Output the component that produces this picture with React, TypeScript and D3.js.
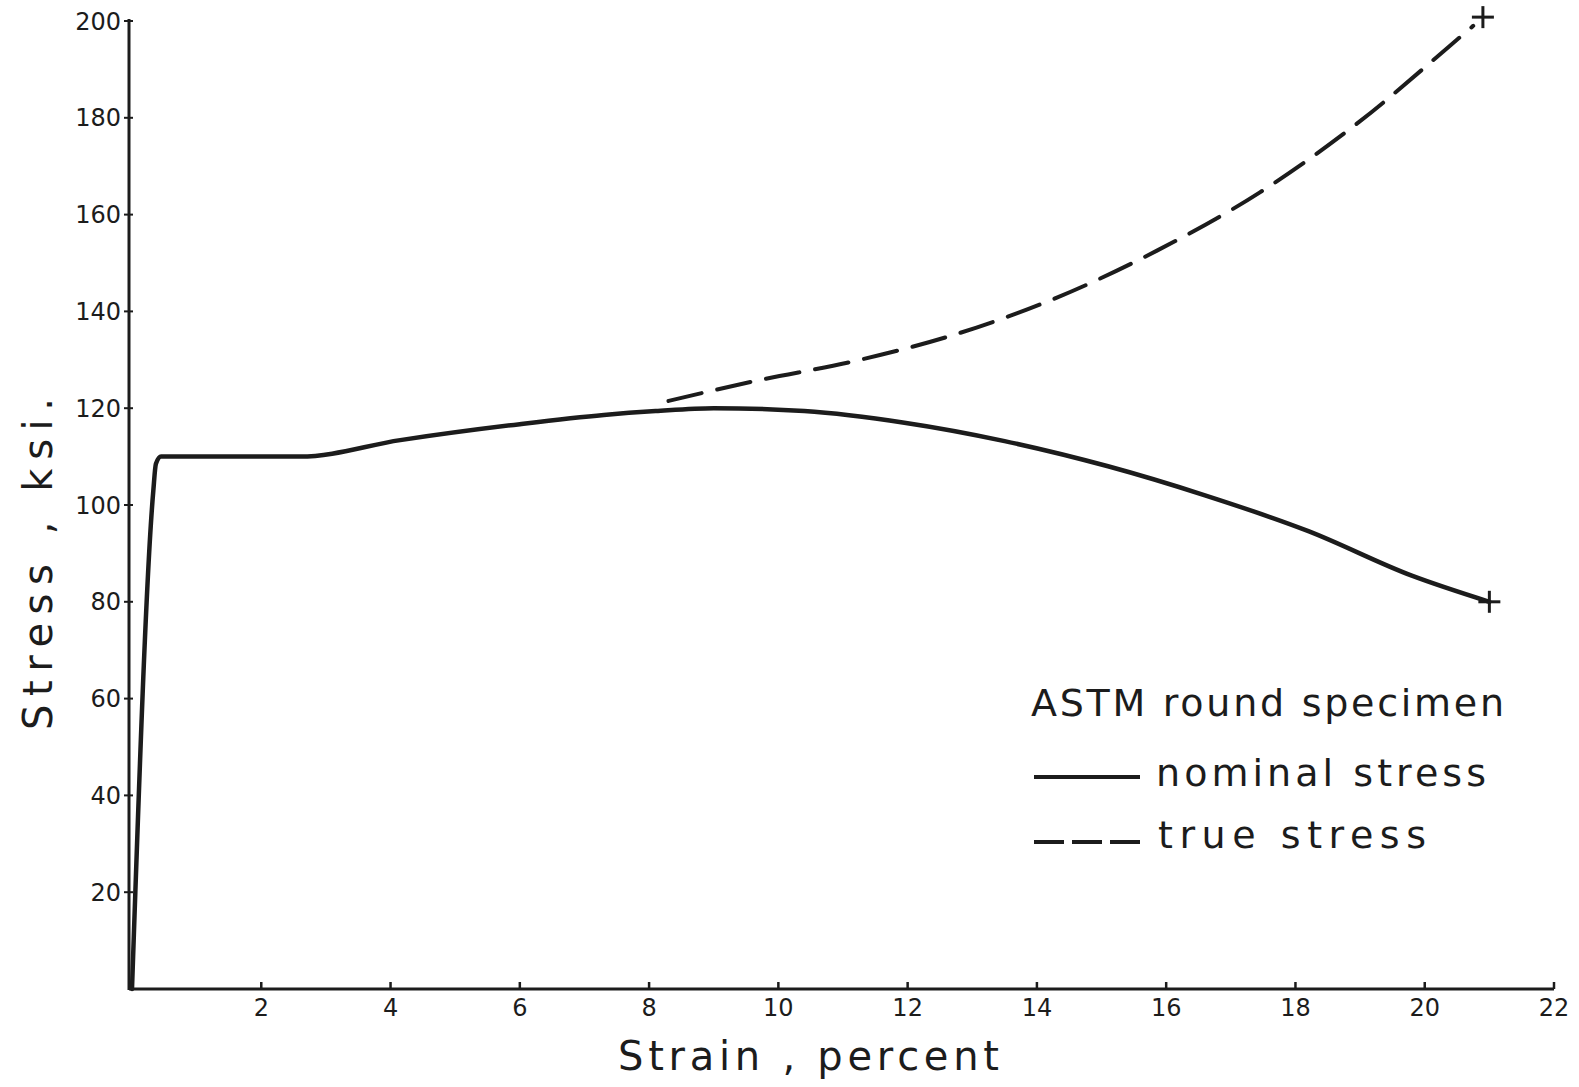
import React from "react";
import * as d3 from "d3";

const nominalStrain = [0, 0.33, 0.37, 0.45, 0.6, 2.6, 4.15, 6.0, 7.3, 8.1, 9.0, 10.4, 11.95, 13.5, 15.1, 16.6, 18.2, 19.8, 21.0];
const nominalStress = [0, 103, 108.5, 110, 110, 110, 113.4, 116.7, 118.6, 119.4, 120, 119.4, 117, 113.2, 108, 102, 94.6, 85.4, 80];

const trueStrain = [8.3, 9.6, 11.2, 12.75, 14.3, 15.85, 17.45, 19.0, 20.4, 20.75];
const trueStress = [121.5, 125.5, 129.8, 135.3, 142.8, 152.5, 164.6, 179.3, 195, 199];

const endStrain = [21.0, 20.9];
const endStress = [80, 200.8];

const xTicks = [2, 4, 6, 8, 10, 12, 14, 16, 18, 20, 22];
const yTicks = [20, 40, 60, 80, 100, 120, 140, 160, 180, 200];

const xLabel = "Strain ,  percent";
const yLabel = "Stress ,  ksi.";
const legendTitle = "ASTM round specimen";
const legendNames = ["nominal stress", "true stress"];

const W = 1579;
const H = 1087;
const FONT = "'DejaVu Sans', 'Liberation Sans', sans-serif";
const INK = "#1c1c1c";

export default function App() {
  const x = d3.scaleLinear().domain([0, 22]).range([132, 1554]);
  const y = d3.scaleLinear().domain([0, 200]).range([989, 21]);
  const axisX = 129;

  const line = d3
    .line<[number, number]>()
    .x((d) => x(d[0]))
    .y((d) => y(d[1]))
    .curve(d3.curveMonotoneX);

  const nominal = nominalStrain.map((s, i) => [s, nominalStress[i]] as [number, number]);
  const trueS = trueStrain.map((s, i) => [s, trueStress[i]] as [number, number]);

  return (
    <svg
      width={W}
      height={H}
      style={{ position: "absolute", left: 0, top: 0, background: "#fff" }}
    >
      <rect x={0} y={0} width={W} height={H} fill="#fff" />
      {/* axes */}
      <line x1={axisX} x2={axisX} y1={y(200) - 2} y2={y(0) + 1} stroke={INK} strokeWidth={3} />
      <line x1={axisX} x2={x(22)} y1={y(0)} y2={y(0)} stroke={INK} strokeWidth={3} />
      {yTicks.map((t) => (
        <g key={"y" + t}>
          <line x1={axisX - 5} x2={axisX + 4} y1={y(t)} y2={y(t)} stroke={INK} strokeWidth={2} />
          <text
            x={axisX - 8}
            y={y(t)}
            dy="0.36em"
            textAnchor="end"
            fontFamily={FONT}
            fontSize={24}
            fill={INK}
          >
            {t}
          </text>
        </g>
      ))}
      {xTicks.map((t) => (
        <g key={"x" + t}>
          <line x1={x(t)} x2={x(t)} y1={y(0)} y2={y(0) - 7} stroke={INK} strokeWidth={2.5} />
          <text
            x={x(t)}
            y={1016}
            textAnchor="middle"
            fontFamily={FONT}
            fontSize={24}
            fill={INK}
          >
            {t}
          </text>
        </g>
      ))}
      {/* axis titles */}
      <text
        x={618}
        y={1070}
        fontFamily={FONT}
        fontSize={40}
        fill={INK}
        textLength={381}
        lengthAdjust="spacing"
      >
        {xLabel}
      </text>
      <text
        transform={`translate(52,730) rotate(-90)`}
        fontFamily={FONT}
        fontSize={40}
        fill={INK}
        textLength={332}
        lengthAdjust="spacing"
      >
        {yLabel}
      </text>
      {/* curves */}
      <path d={line(nominal) || ""} fill="none" stroke={INK} strokeWidth={4.5} strokeLinejoin="round" strokeLinecap="round" />
      <path
        d={line(trueS) || ""}
        fill="none"
        stroke={INK}
        strokeWidth={4}
        strokeDasharray="34 16"
        strokeLinecap="round"
      />
      {endStrain.map((s, i) => (
        <g key={"e" + i} stroke={INK} strokeWidth={3}>
          <line x1={x(s) - 11} x2={x(s) + 11} y1={y(endStress[i])} y2={y(endStress[i])} />
          <line x1={x(s)} x2={x(s)} y1={y(endStress[i]) - 11} y2={y(endStress[i]) + 11} />
        </g>
      ))}
      {/* legend */}
      <text x={1031} y={716} fontFamily={FONT} fontSize={38} fill={INK} textLength={473} lengthAdjust="spacing">
        {legendTitle}
      </text>
      <line x1={1034} x2={1140} y1={777} y2={777} stroke={INK} strokeWidth={4} />
      <text x={1156} y={786} fontFamily={FONT} fontSize={38} fill={INK} textLength={330} lengthAdjust="spacing">
        {legendNames[0]}
      </text>
      <line x1={1034} x2={1140} y1={842} y2={842} stroke={INK} strokeWidth={4} strokeDasharray="30 8" />
      <text x={1158} y={848} fontFamily={FONT} fontSize={38} fill={INK} textLength={268} lengthAdjust="spacing">
        {legendNames[1]}
      </text>
    </svg>
  );
}
